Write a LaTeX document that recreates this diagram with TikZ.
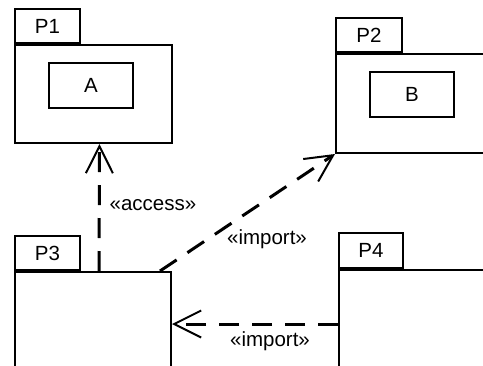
\documentclass[tikz,border=0pt]{standalone}
\usepackage{fontspec}
\setmainfont{Liberation Sans}
\usetikzlibrary{arrows.meta}

\begin{document}
\begin{tikzpicture}[x=1pt,y=-1pt,font=\fontsize{20.5}{24}\selectfont]
                \useasboundingbox (0,0) rectangle (483,365);
                \clip (0,0) rectangle (483,365);

                \tikzstyle{pkg}=[rectangle, draw, line width=2pt, inner sep=0pt, anchor=north west]
                \tikzstyle{tab}=[rectangle, draw, line width=2pt, inner sep=0pt, minimum width=65pt, minimum height=34pt, anchor=south west]
                \tikzstyle{cls}=[rectangle, draw, line width=2pt, minimum width=84pt, minimum height=45pt]

                \node[pkg, minimum width=157pt, minimum height=98pt] (P1) at (14,44) {};
                \node[tab] (T1) at (P1.north west) {P1};
                \node[cls] (A) at (91,85.5) {A};

                \node[pkg, minimum width=200pt, minimum height=99pt] (P2) at (335,53) {};
                \node[tab, minimum width=66pt] (T2) at (P2.north west) {P2};
                \node[cls] (B) at (412,94.5) {B};

                \node[pkg, minimum width=156pt, minimum height=120pt] (P3) at (14,271) {};
                \node[tab] (T3) at (P3.north west) {P3};

                \node[pkg, minimum width=200pt, minimum height=108pt] (P4) at (338,269) {};
                \node[tab, minimum width=64pt, minimum height=35pt] (T4) at (P4.north west) {P4};

                \tikzstyle{dep}=[line width=3pt, dash pattern=on 20pt off 13pt, -{Straight Barb[length=27pt, width=27pt, line width=2pt]}]

                \draw[dep] ([xshift=6pt]P3.north) to ([xshift=6pt]P1.south);
                \draw[dep] ([xshift=-12pt]P3.north east) to (P2.south west);
                \draw[dep] (P4.west) to (P4.west -| P3.east);

                \node (L1) at (153,205) {«access»};
                \node (L2) at (267,239) {«import»};
                \node (L3) at (270,341) {«import»};
            \end{tikzpicture}
\end{document}
